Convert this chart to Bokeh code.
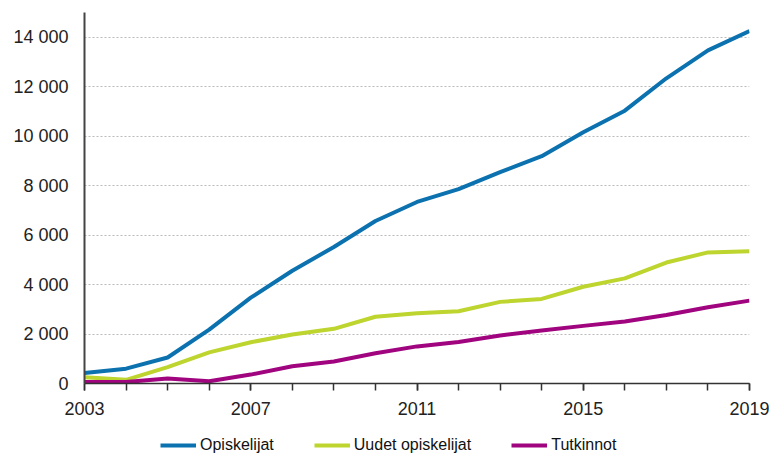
from bokeh.plotting import figure
from bokeh.models import FixedTicker, Legend, LegendItem, Range1d
from bokeh.layouts import column
from bokeh.embed import file_html
from bokeh.resources import INLINE

years = list(range(2003, 2020))
opiskelijat = [420, 600, 1050, 2180, 3470, 4560, 5520, 6570, 7340, 7860, 8550, 9190, 10160, 11030, 12340, 13470, 14250]
uudet_opiskelijat = [250, 150, 660, 1260, 1670, 1980, 2210, 2700, 2840, 2920, 3300, 3420, 3910, 4250, 4890, 5300, 5350]
tutkinnot = [60, 60, 200, 90, 360, 700, 890, 1220, 1500, 1680, 1940, 2140, 2330, 2510, 2770, 3080, 3350]

series_names = ["Opiskelijat", "Uudet opiskelijat", "Tutkinnot"]
series_colors = ["#0B72AF", "#BDD52E", "#A0047F"]

y_ticks = [0, 2000, 4000, 6000, 8000, 10000, 12000, 14000]
x_major = [2003, 2007, 2011, 2015, 2019]

FONT = "Liberation Sans"
all_series = [opiskelijat, uudet_opiskelijat, tutkinnot]

p = figure(width=773, height=430, output_backend="svg", toolbar_location=None,
           x_range=Range1d(2003, 2019), y_range=Range1d(0, 15000),
           min_border_left=84, min_border_right=24, min_border_top=12, min_border_bottom=47)
p.outline_line_color = None
p.background_fill_color = "white"

for vals, col in zip(all_series, series_colors):
    p.line(years, vals, line_color=col, line_width=4)

# axes
p.xaxis.ticker = FixedTicker(ticks=x_major, minor_ticks=years)
p.xaxis.major_tick_out = 7
p.xaxis.major_tick_in = 0
p.xaxis.minor_tick_out = 7
p.xaxis.minor_tick_in = 0
p.xaxis.axis_line_color = "#333333"
p.xaxis.axis_line_width = 1.5
p.xaxis.major_tick_line_color = "#333333"
p.xaxis.minor_tick_line_color = "#333333"
p.xaxis.major_tick_line_width = 1.5
p.xaxis.minor_tick_line_width = 1.5
p.xaxis.major_label_text_font = FONT
p.xaxis.major_label_text_font_size = "18px"
p.xaxis.major_label_text_color = "#222222"
p.xaxis.major_label_standoff = 11

p.yaxis.ticker = FixedTicker(ticks=y_ticks)
p.yaxis.major_label_overrides = {t: f"{t:,}".replace(",", " ") for t in y_ticks}
p.yaxis.major_tick_out = 0
p.yaxis.major_tick_in = 0
p.yaxis.minor_tick_out = 0
p.yaxis.minor_tick_in = 0
p.yaxis.axis_line_color = "#444444"
p.yaxis.axis_line_width = 2
p.yaxis.major_label_text_font = FONT
p.yaxis.major_label_text_font_size = "18px"
p.yaxis.major_label_text_color = "#222222"
p.yaxis.major_label_standoff = 16

p.xgrid.grid_line_color = None
p.ygrid.grid_line_color = "#BBBBBB"
p.ygrid.grid_line_dash = "2 2"
p.ygrid.grid_line_width = 1

# legend strip below the chart (series drawn out of view; only legend is visible)
lg = figure(width=773, height=25, output_backend="svg", toolbar_location=None,
            x_range=Range1d(2003, 2019), y_range=Range1d(-2, -1),
            min_border_left=0, min_border_right=0, min_border_top=0, min_border_bottom=0)
lg.axis.visible = False
lg.grid.visible = False
lg.outline_line_color = None
leg_renderers = [lg.line(years, vals, line_color=c, line_width=4)
                 for vals, c in zip(all_series, series_colors)]
legend = Legend(items=[LegendItem(label=n, renderers=[r]) for n, r in zip(series_names, leg_renderers)],
                orientation="horizontal", location=(76, 0),
                glyph_width=36, glyph_height=20, label_standoff=4, spacing=40,
                padding=0, margin=0, border_line_color=None, background_fill_alpha=0,
                label_text_font=FONT, label_text_font_size="16px", label_text_color="#111111")
lg.add_layout(legend, "center")

layout = column(p, lg, spacing=0)
open("out.html", "w").write(file_html(layout, INLINE))
